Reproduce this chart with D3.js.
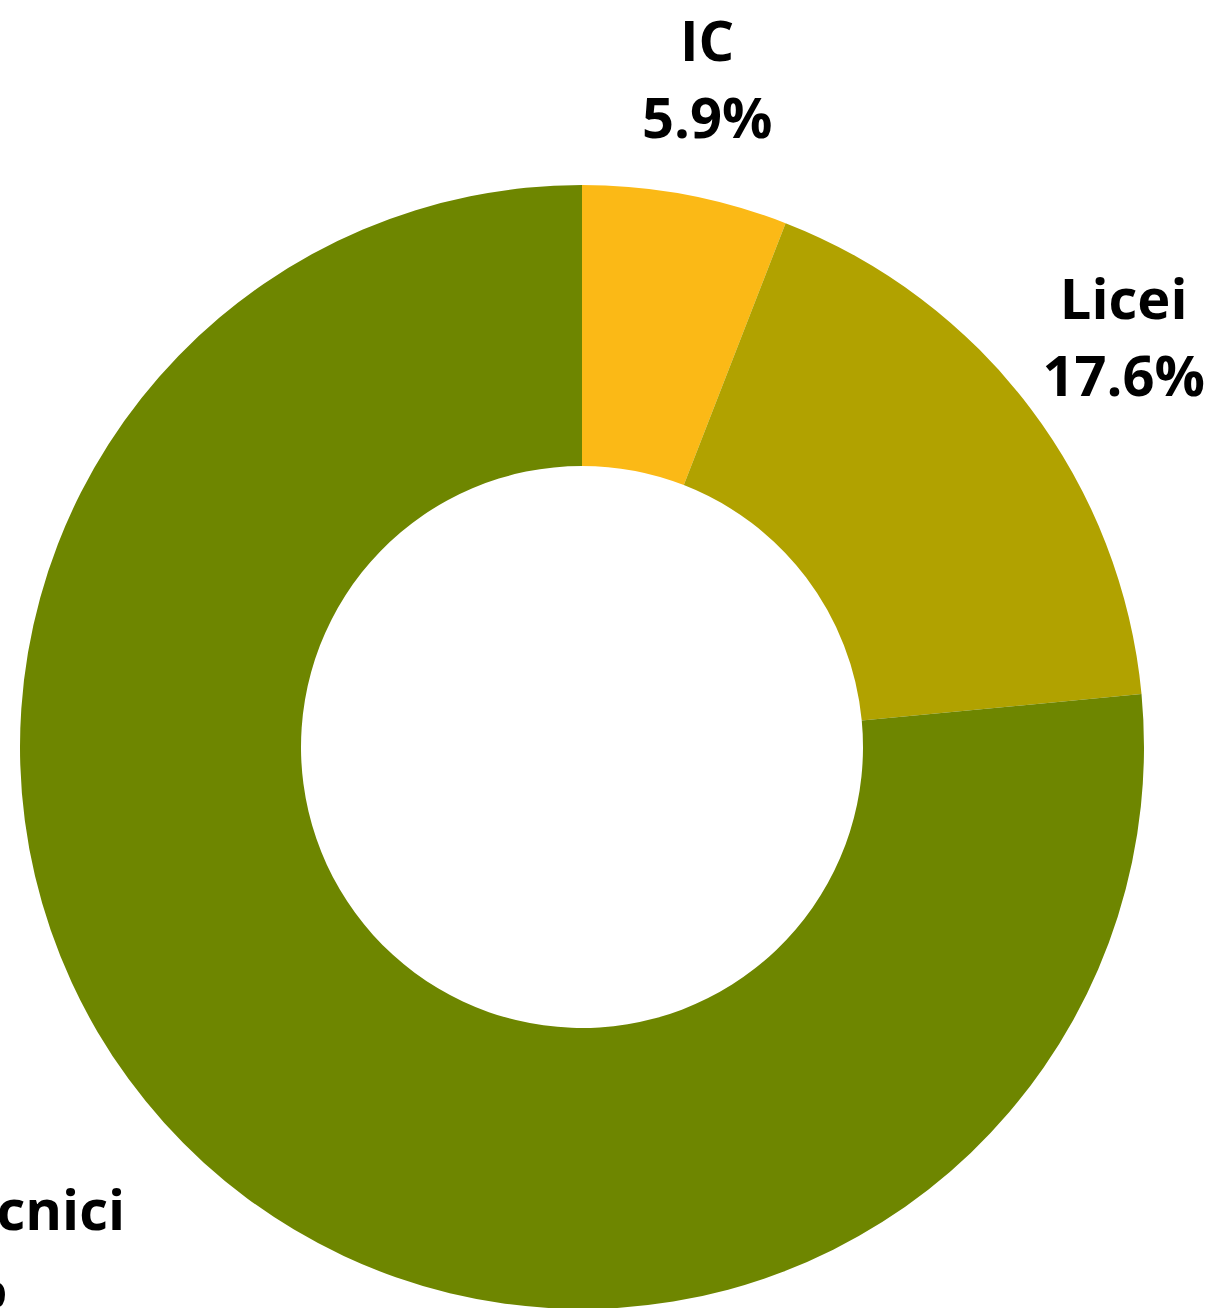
<!DOCTYPE html>
<html>
<head>
<meta charset="utf-8">
<script src="https://cdn.jsdelivr.net/npm/d3@7"></script>
<style>
  html, body { margin: 0; padding: 0; background: #ffffff; overflow: hidden; }
  svg { display: block; }
</style>
</head>
<body>
<svg id="chart" width="1215" height="1308"></svg>
<script>
const categories = ["IC", "Licei", "Istituti Tecnici"];
const values = [5.9, 17.6, 76.5];
const valueLabels = ["5.9%", "17.6%", "76.5%"];
const colors = ["#FBB916", "#B1A200", "#6E8600"];

const W = 1215, H = 1308;
const cx = 582, cy = 747;
const outerR = 562, innerR = 281, labelR = 679;
const fontSize = 56, lineGap = 77;

const svg = d3.select("#chart");
const g = svg.append("g").attr("transform", `translate(${cx},${cy})`);

const data = categories.map((c, i) => ({ name: c, value: values[i], label: valueLabels[i], color: colors[i] }));

const pie = d3.pie().value(d => d.value).sort(null);
const arcs = pie(data);
const arc = d3.arc().innerRadius(innerR).outerRadius(outerR);
const labelArc = d3.arc().innerRadius(labelR).outerRadius(labelR);

g.selectAll("path.slice")
  .data(arcs)
  .join("path")
  .attr("class", "slice")
  .attr("d", arc)
  .attr("fill", d => d.data.color);

const labels = g.selectAll("text.lbl")
  .data(arcs)
  .join("text")
  .attr("class", "lbl")
  .attr("font-family", "'Open Sans', 'Noto Sans', sans-serif")
  .attr("font-weight", 700)
  .attr("font-size", fontSize)
  .attr("fill", "#000")
  .attr("text-anchor", "middle");

labels.each(function(d) {
  const [lx, ly] = labelArc.centroid(d);
  const t = d3.select(this);
  const l1 = t.append("tspan").text(d.data.name);
  const l2 = t.append("tspan").text(d.data.label);
  const w = Math.max(l1.node().getComputedTextLength(), l2.node().getComputedTextLength());
  // left-side labels: block right edge at anchor point; right-side: centered
  const x = lx < 0 ? lx - w / 2 : lx;
  const y1 = ly - lineGap / 2 + fontSize * 0.35;
  l1.attr("x", x).attr("y", y1);
  l2.attr("x", x).attr("y", y1 + lineGap);
});
</script>
</body>
</html>
